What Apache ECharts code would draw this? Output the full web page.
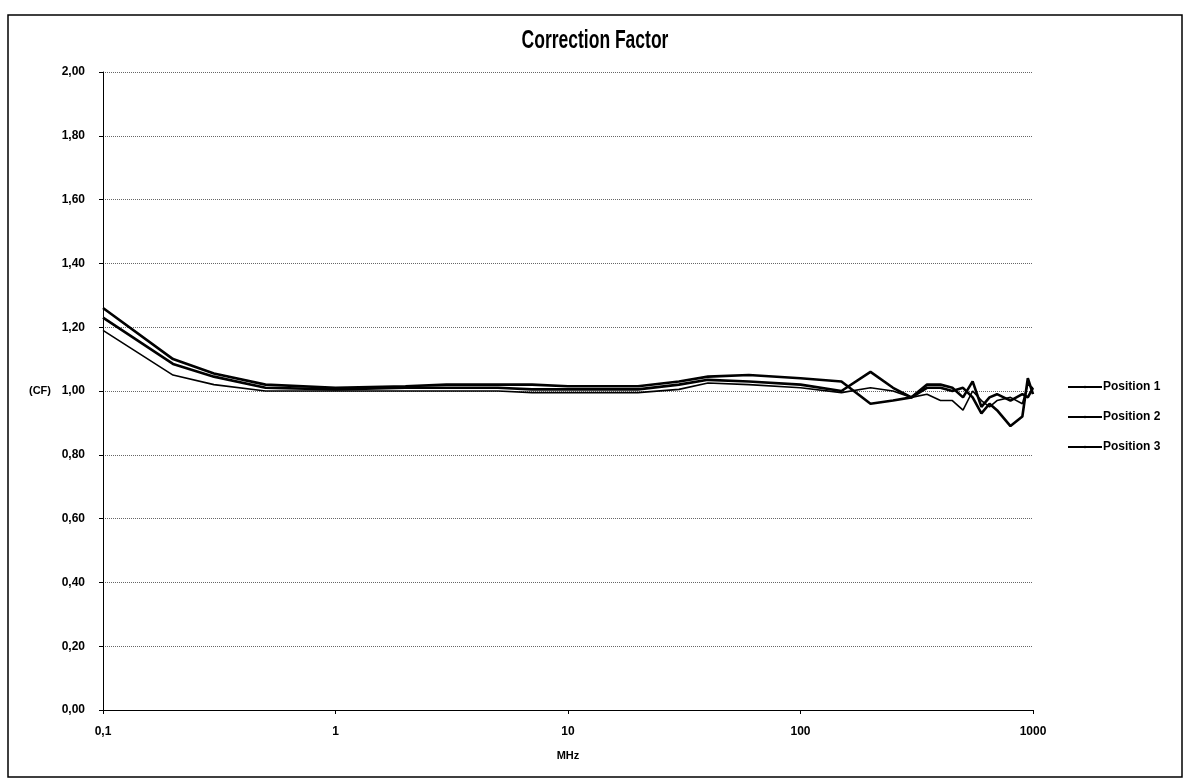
<!DOCTYPE html>
<html>
<head>
<meta charset="utf-8">
<script src="https://cdn.jsdelivr.net/npm/echarts@6/dist/echarts.min.js"></script>
<style>
html,body{margin:0;padding:0;background:#fff;}
#c{width:1189px;height:782px;}
</style>
</head>
<body>
<div id="c"></div>
<script>
const freqs = [0.1,0.2,0.3,0.5,1,2,3,5,7,10,20,30,40,60,100,150,200,250,300,350,400,450,500,550,600,650,700,800,900,950,1000];
const position1 = [1.26,1.10,1.055,1.02,1.01,1.015,1.02,1.02,1.02,1.015,1.015,1.03,1.045,1.05,1.04,1.03,0.96,0.97,0.98,1.02,1.02,1.01,0.98,1.03,0.95,0.98,0.99,0.97,0.99,0.98,1.01];
const position2 = [1.23,1.085,1.045,1.01,1.005,1.01,1.01,1.01,1.005,1.005,1.005,1.02,1.035,1.03,1.02,1.00,1.06,1.01,0.98,1.01,1.01,1.00,1.01,0.98,0.93,0.96,0.94,0.89,0.92,1.04,0.99];
const position3 = [1.19,1.05,1.02,1.0,1.0,1.0,1.0,1.0,0.995,0.995,0.995,1.005,1.025,1.02,1.01,0.995,1.01,1.0,0.98,0.99,0.97,0.97,0.94,1.0,0.97,0.95,0.97,0.98,0.96,1.02,1.01];
const seriesNames = ['Position 1','Position 2','Position 3'];
const titleText = 'Correction Factor';
const xTickLabels = {0.1:'0,1',1:'1',10:'10',100:'100',1000:'1000'};

const FONT = "'Liberation Sans',sans-serif";
const pairs = arr => freqs.map((f,i)=>[f,arr[i]]);
const chart = echarts.init(document.getElementById('c'));
chart.setOption({
  animation:false,
  backgroundColor:'#fff',
  grid:{left:103,right:156,top:72,bottom:72},
  legend:{orient:'vertical',left:1062,top:376,itemGap:18,itemWidth:34,itemHeight:3,
    textStyle:{fontFamily:FONT,fontWeight:'bold',fontSize:12,color:'#000',padding:[0,0,0,-4]},
    data:seriesNames},
  xAxis:{type:'log',logBase:10,min:0.1,max:1000,
    name:'MHz',nameLocation:'middle',nameGap:40,
    nameTextStyle:{fontFamily:FONT,fontWeight:'bold',fontSize:11,color:'#000'},
    axisLine:{lineStyle:{color:'#000',width:1}},
    axisTick:{show:true,length:4,lineStyle:{color:'#000'}},
    minorTick:{show:false},
    splitLine:{show:false},
    axisLabel:{fontFamily:FONT,fontWeight:'bold',fontSize:12,color:'#000',margin:16,
      formatter:v=>xTickLabels[v]!==undefined?xTickLabels[v]:(Math.abs(v-0.1)<1e-9?'0,1':String(v))}},
  yAxis:{type:'value',min:0,max:2,interval:0.2,
    name:'(CF)',nameLocation:'middle',nameGap:52,nameRotate:0,
    nameTextStyle:{fontFamily:FONT,fontWeight:'bold',fontSize:11,color:'#000'},
    axisLine:{show:true,lineStyle:{color:'#000',width:1}},
    axisTick:{show:true,length:4,lineStyle:{color:'#000'}},
    splitLine:{show:true,lineStyle:{color:'#666',type:'dotted',width:1}},
    axisLabel:{fontFamily:FONT,fontWeight:'bold',fontSize:12,color:'#000',margin:18,
      formatter:v=>v.toFixed(2).replace('.',',')}},
  graphic:[
    {type:'rect',shape:{x:8,y:15,width:1174,height:762},
      style:{fill:'none',stroke:'#000',lineWidth:1.5},silent:true,z:-1},
    {type:'text',x:595,y:41,scaleX:0.7,scaleY:1,originX:0,originY:0,
      style:{text:titleText,x:0,y:0,textAlign:'center',textVerticalAlign:'middle',
        fontFamily:FONT,fontWeight:'bold',fontSize:25,fill:'#000'},silent:true}
  ],
  series:[
    {name:seriesNames[0],type:'line',data:pairs(position1),symbol:'none',
      lineStyle:{color:'#000',width:2.6},itemStyle:{color:'#000'}},
    {name:seriesNames[1],type:'line',data:pairs(position2),symbol:'none',
      lineStyle:{color:'#000',width:2.6},itemStyle:{color:'#000'}},
    {name:seriesNames[2],type:'line',data:pairs(position3),symbol:'none',
      lineStyle:{color:'#000',width:1.6},itemStyle:{color:'#000'}}
  ]
});
</script>
</body>
</html>
